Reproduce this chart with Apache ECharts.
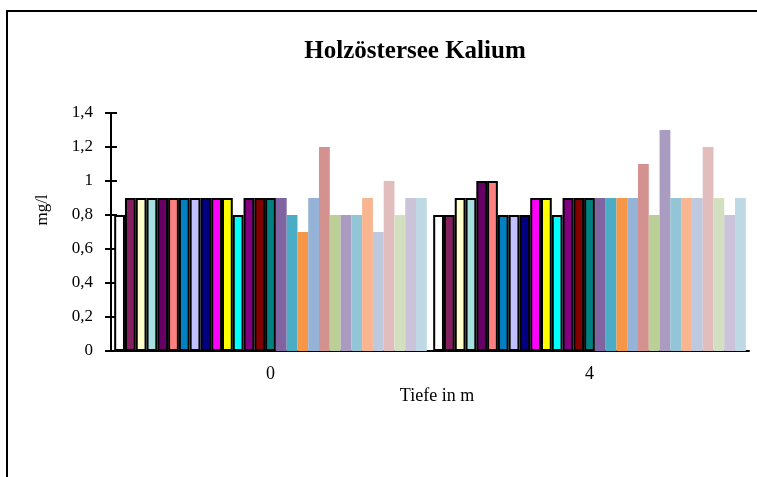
<!DOCTYPE html>
<html>
<head>
<meta charset="utf-8">
<script src="https://cdn.jsdelivr.net/npm/echarts@6/dist/echarts.min.js"></script>
<style>
  html, body { margin: 0; padding: 0; background: #fff; }
  #chart { width: 757px; height: 477px; }
</style>
</head>
<body>
<div id="chart"></div>
<script>
// Kategorien (Tiefe in m)
var categories = ['0', '4'];
// y-Achsen-Beschriftung
var yTickLabels = ['0', '0,2', '0,4', '0,6', '0,8', '1', '1,2', '1,4'];
// Werte je Reihe bei 0 m und 4 m
var depth0Values = [0.8, 0.9, 0.9, 0.9, 0.9, 0.9, 0.9, 0.9, 0.9, 0.9, 0.9, 0.8, 0.9, 0.9, 0.9,
                    0.9, 0.8, 0.7, 0.9, 1.2, 0.8, 0.8, 0.8, 0.9, 0.7, 1.0, 0.8, 0.9, 0.9];
var depth4Values = [0.8, 0.8, 0.9, 0.9, 1.0, 1.0, 0.8, 0.8, 0.8, 0.9, 0.9, 0.8, 0.9, 0.9, 0.9,
                    0.9, 0.9, 0.9, 0.9, 1.1, 0.8, 1.3, 0.9, 0.9, 0.9, 1.2, 0.9, 0.8, 0.9];

// Farben der Reihen (die ersten 15 mit schwarzem Rahmen)
var seriesColors = ['#ffffff', '#84205f', '#ffffcc', '#a6e0e0', '#660066', '#ff8080', '#0080c0', '#c0c0ff',
                    '#000080', '#ff00ff', '#ffff00', '#00ffff', '#800080', '#800000', '#008080',
                    '#8064a2', '#4bacc6', '#f79646', '#95b3d7', '#d39290', '#bbcf97', '#a99cc0',
                    '#93c5d6', '#f9b590', '#bec9e0', '#e2bdbd', '#d3e0c0', '#cac3d9', '#bed9e4'];
var borderedCount = 15;

var font = 'Liberation Serif';
var chart = echarts.init(document.getElementById('chart'));

var series = [];
for (var i = 0; i < depth0Values.length; i++) {
    series.push({
        name: 'Reihe ' + (i + 1),
        type: 'bar',
        data: [depth0Values[i], depth4Values[i]],
        barGap: '0%',
        barCategoryGap: '2%',
        itemStyle: {
            color: seriesColors[i],
            borderColor: '#000',
            borderWidth: i < borderedCount ? 2 : 0
        },
        emphasis: { disabled: true }
    });
}

chart.setOption({
    animation: false,
    title: {
        text: 'Holzöstersee Kalium',
        left: 410,
        top: 34,
        textAlign: 'center',
        textStyle: { fontFamily: font, fontSize: 25, fontWeight: 'bold', color: '#000' }
    },
    grid: { left: 111, right: 8, top: 113, bottom: 126 },
    xAxis: [{
        type: 'category',
        data: categories,
        name: 'Tiefe in m',
        nameLocation: 'middle',
        nameGap: 36,
        nameTextStyle: { fontFamily: font, fontSize: 18, color: '#000', padding: [0, 0, 0, 14] },
        axisLine: { lineStyle: { color: '#000', width: 2 } },
        axisTick: { length: 5, lineStyle: { color: '#000', width: 2 } },
        axisLabel: { fontFamily: font, fontSize: 18, color: '#000', margin: 14 }
    }, {
        type: 'category',
        data: categories,
        position: 'bottom',
        axisLine: { show: false },
        axisTick: { inside: true, length: 5, lineStyle: { color: '#000', width: 2 } },
        axisLabel: { show: false }
    }],
    yAxis: [{
        type: 'value',
        min: 0,
        max: 1.4,
        interval: 0.2,
        name: 'mg/l',
        nameLocation: 'middle',
        nameGap: 60,
        nameTextStyle: { fontFamily: font, fontSize: 17, color: '#000', padding: [0, 0, 0, 44] },
        axisLine: { show: true, lineStyle: { color: '#000', width: 2 } },
        axisTick: { show: true, length: 6, lineStyle: { color: '#000', width: 2 } },
        splitLine: { show: false },
        axisLabel: {
            fontFamily: font, fontSize: 17, color: '#000', margin: 18,
            formatter: function (v, idx) { return yTickLabels[idx]; }
        }
    }, {
        type: 'value',
        min: 0,
        max: 1.4,
        interval: 0.2,
        position: 'left',
        axisLine: { show: false },
        axisTick: { show: true, inside: true, length: 6, lineStyle: { color: '#000', width: 2 } },
        splitLine: { show: false },
        axisLabel: { show: false }
    }],
    graphic: [{
        // Rahmen des Diagrammbereichs
        type: 'rect',
        silent: true,
        shape: { x: 7, y: 11, width: 800, height: 520 },
        style: { fill: 'none', stroke: '#000', lineWidth: 2 }
    }],
    series: series
});
</script>
</body>
</html>
